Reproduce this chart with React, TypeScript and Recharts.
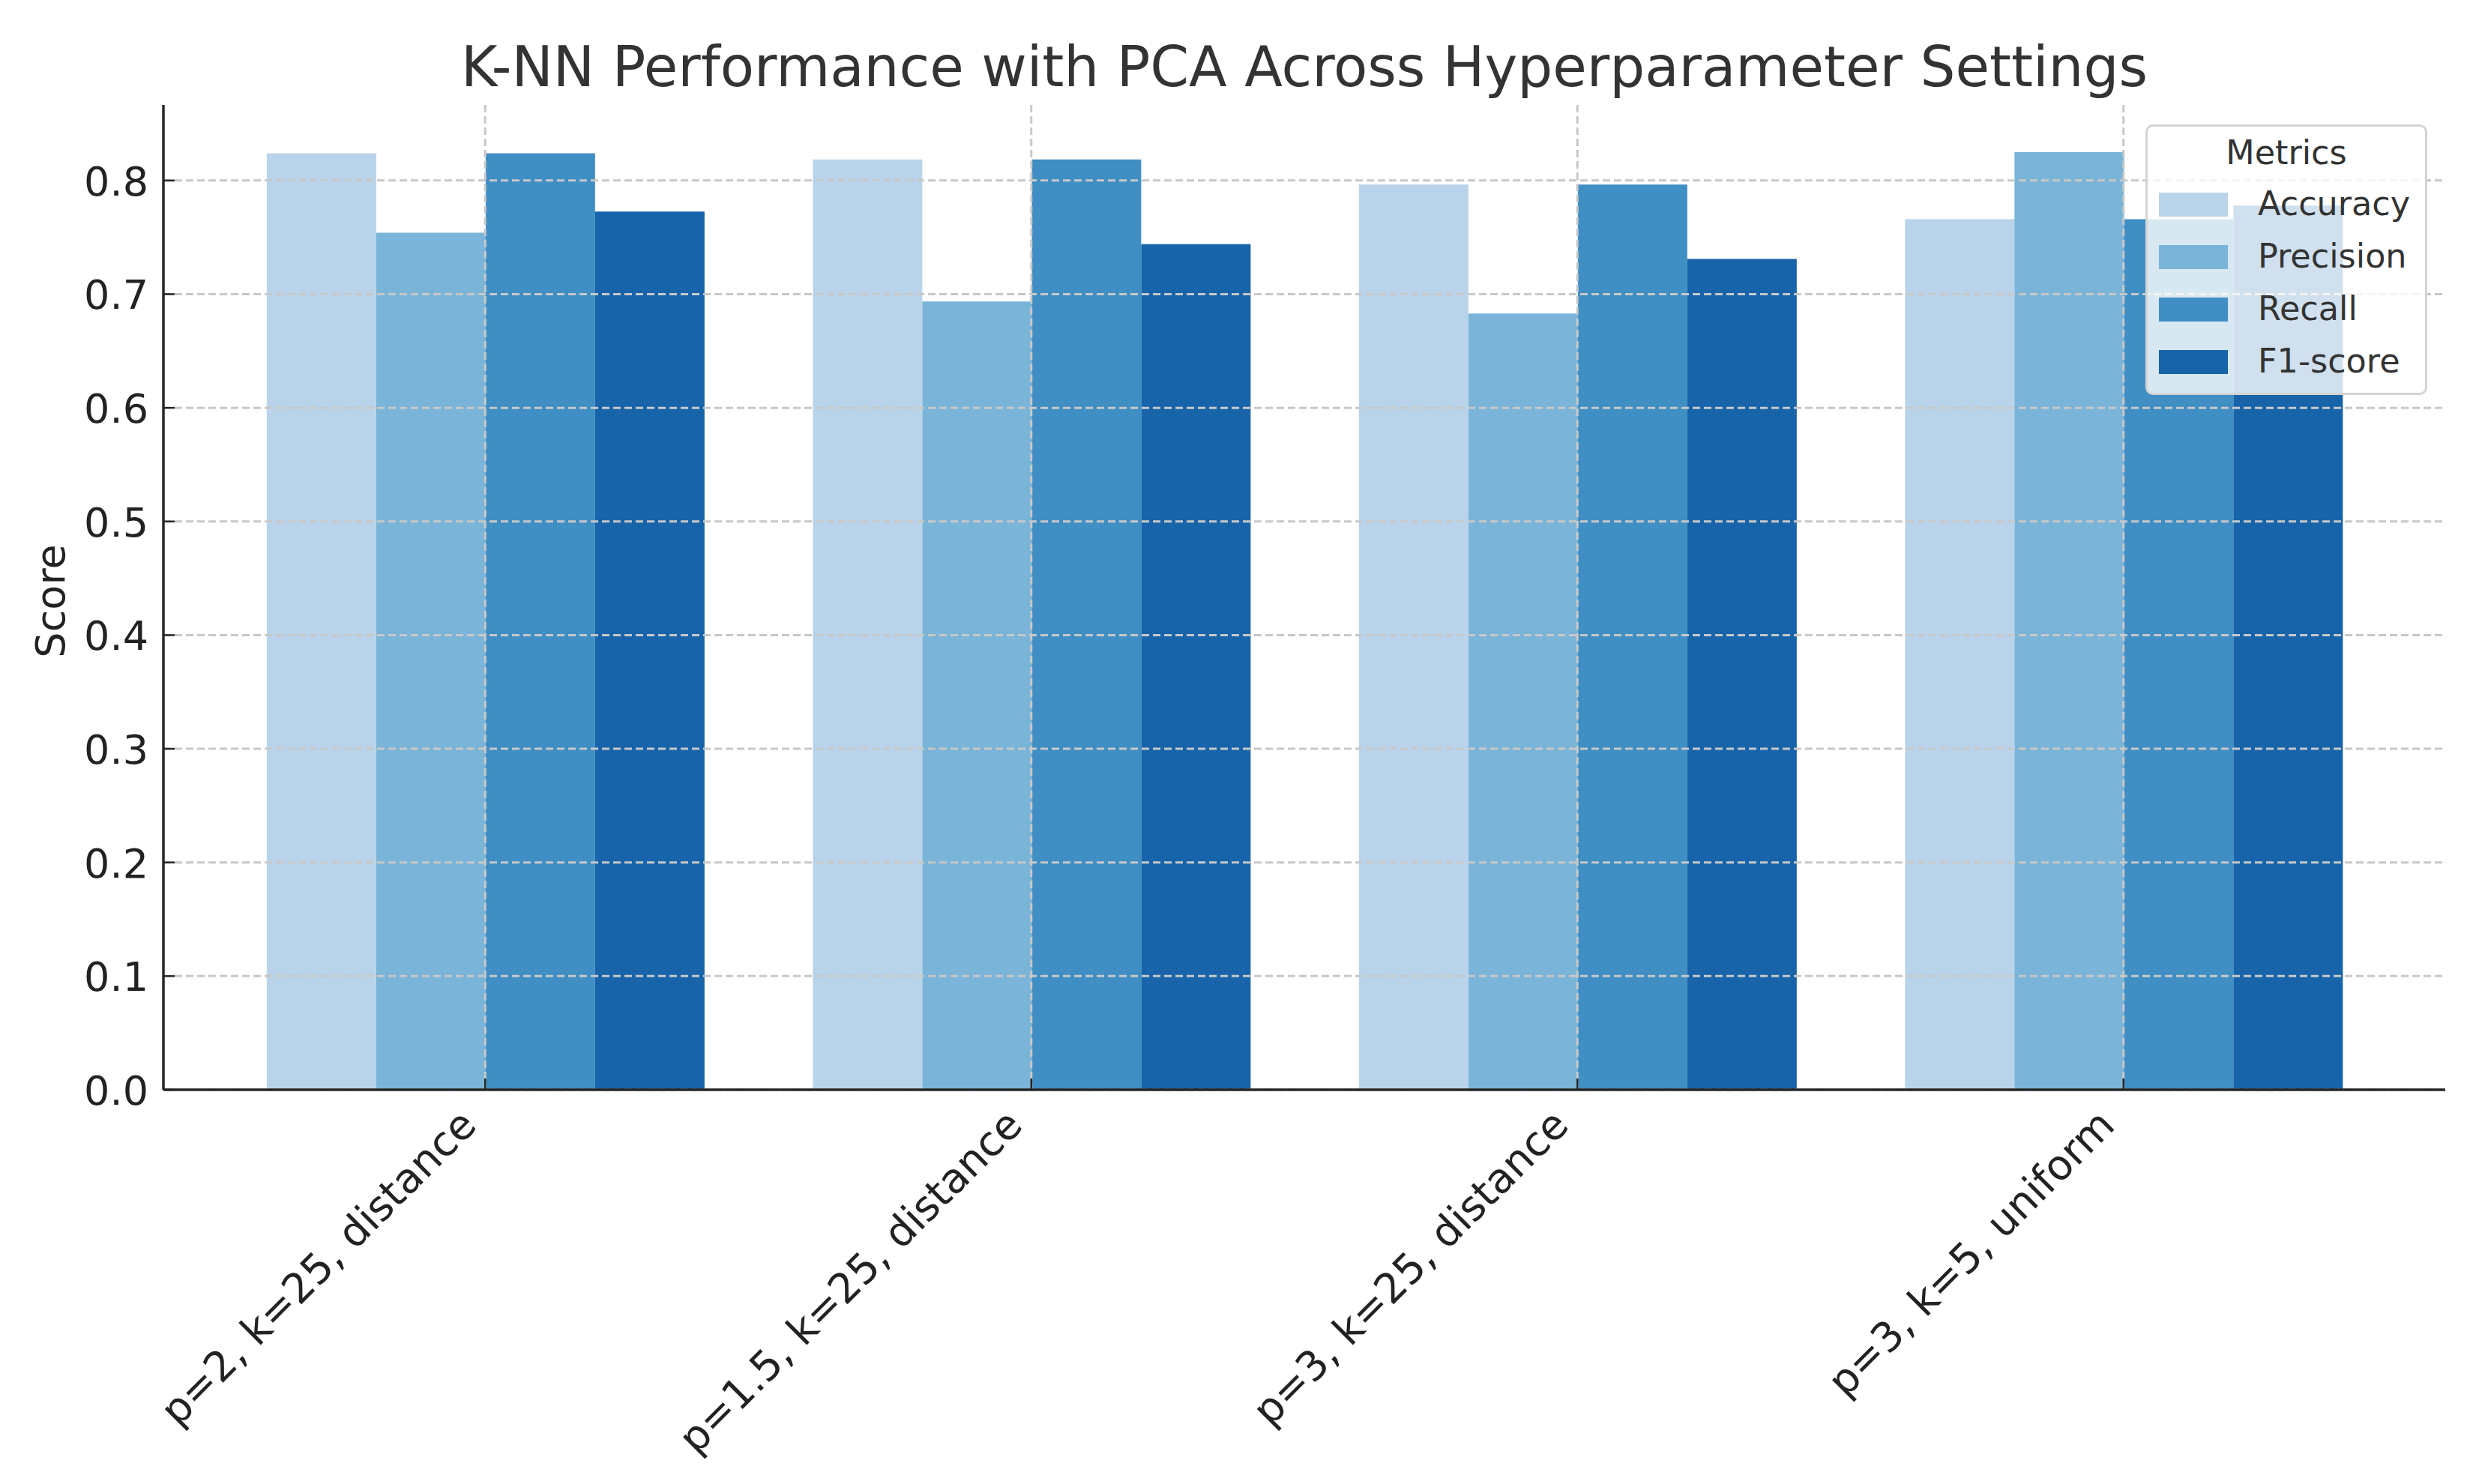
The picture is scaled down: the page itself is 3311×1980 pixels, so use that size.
import React from 'react';
import { BarChart, Bar, XAxis, YAxis, CartesianGrid } from 'recharts';

const categories = [
  'p=2, k=25, distance',
  'p=1.5, k=25, distance',
  'p=3, k=25, distance',
  'p=3, k=5, uniform',
];
const accuracy = [0.824, 0.8185, 0.7965, 0.766];
const precision = [0.754, 0.6935, 0.683, 0.825];
const recall = [0.824, 0.8185, 0.7965, 0.766];
const f1score = [0.7727, 0.744, 0.731, 0.778];

const seriesKeys = ['accuracy', 'precision', 'recall', 'f1'];
const seriesNames = ['Accuracy', 'Precision', 'Recall', 'F1-score'];
const seriesColors = ['#b9d4ea', '#7ab4d8', '#3f8ec4', '#1764ab'];
const seriesValues = [accuracy, precision, recall, f1score];

const yTicks = [0, 0.1, 0.2, 0.3, 0.4, 0.5, 0.6, 0.7, 0.8];
const yMax = 0.8665;

const titleText = 'K-NN Performance with PCA Across Hyperparameter Settings';
const yLabel = 'Score';
const legendTitle = 'Metrics';

const data = categories.map((name, i) => {
  const row: Record<string, any> = { name };
  seriesKeys.forEach((k, j) => {
    row[k] = seriesValues[j][i];
  });
  return row;
});

const FONT = '"DejaVu Sans", Verdana, sans-serif';
const AXIS_COLOR = '#262626';

const XTick = (props: any) => {
  const { x, y, payload } = props;
  const ax = x - 9;
  const ay = y + 50;
  return (
    <g>
      <line x1={x} x2={x} y1={y} y2={y - 15} stroke={AXIS_COLOR} strokeWidth={2.5} />
      <text
        x={ax}
        y={ay}
        transform={`rotate(-45 ${ax} ${ay})`}
        textAnchor="end"
        fontSize={55}
        fontFamily={FONT}
        fill="#222"
      >
        {payload.value}
      </text>
    </g>
  );
};

const YTick = (props: any) => {
  const { x, y, payload } = props;
  return (
    <g>
      <line x1={x} x2={x + 15} y1={y} y2={y} stroke={AXIS_COLOR} strokeWidth={2.5} />
      <text
        x={x - 20}
        y={y + 20}
        textAnchor="end"
        fontSize={54}
        fontFamily={FONT}
        fill="#222"
      >
        {Number(payload.value).toFixed(1)}
      </text>
    </g>
  );
};

const YLabel = () => (
  <text
    x={86}
    y={802}
    transform="rotate(-90 86 802)"
    textAnchor="middle"
    fontSize={54}
    fontFamily={FONT}
    fill="#222"
  >
    {yLabel}
  </text>
);

export default function App() {
  return (
    <div
      style={{
        position: 'absolute',
        left: 0,
        top: 0,
        width: 3311,
        height: 1980,
        background: '#fff',
        fontFamily: FONT,
      }}
    >
      <BarChart
        width={3311}
        height={1980}
        data={data}
        margin={{ top: 140, right: 49, bottom: 126, left: 18 }}
        barCategoryGap="10%"
        barGap={0}
      >
        {seriesKeys.map((k, j) => (
          <Bar
            key={k}
            dataKey={k}
            name={seriesNames[j]}
            fill={seriesColors[j]}
            isAnimationActive={false}
          />
        ))}
        <CartesianGrid
          stroke="#c8c8c8"
          strokeWidth={3}
          strokeDasharray="10 5"
          syncWithTicks
          zIndex={450}
        />
        <XAxis
          dataKey="name"
          height={400}
          interval={0}
          padding={{ left: 65, right: 65 }}
          axisLine={{ stroke: AXIS_COLOR, strokeWidth: 3.5 }}
          tickLine={false}
          tickSize={0}
          tickMargin={0}
          tick={<XTick />}
        />
        <YAxis
          width={200}
          domain={[0, yMax]}
          ticks={yTicks}
          allowDataOverflow
          axisLine={{ stroke: AXIS_COLOR, strokeWidth: 3.5 }}
          tickLine={false}
          tickSize={0}
          tickMargin={0}
          tick={<YTick />}
          label={{ value: yLabel, content: <YLabel /> }}
        />
      </BarChart>

      <div
        style={{
          position: 'absolute',
          left: 218,
          top: 52,
          width: 3044,
          textAlign: 'center',
          fontSize: 74,
          lineHeight: 1,
          color: '#333',
          whiteSpace: 'nowrap',
        }}
      >
        {titleText}
      </div>

      <div
        style={{
          position: 'absolute',
          left: 2862,
          top: 166,
          width: 376,
          height: 361,
          boxSizing: 'border-box',
          background: 'rgba(255,255,255,0.8)',
          border: '3px solid #d4d4d4',
          borderRadius: 10,
          color: '#333',
          fontSize: 44.5,
          lineHeight: 1,
        }}
      >
        <div
          style={{
            position: 'absolute',
            left: 0,
            width: 370,
            top: 13.4,
            textAlign: 'center',
            whiteSpace: 'nowrap',
          }}
        >
          {legendTitle}
        </div>
        {seriesNames.map((n, j) => (
          <React.Fragment key={n}>
            <div
              style={{
                position: 'absolute',
                left: 15,
                top: 88 + j * 70,
                width: 92,
                height: 32,
                background: seriesColors[j],
              }}
            />
            <div
              style={{
                position: 'absolute',
                left: 147,
                top: 81.4 + j * 70,
                whiteSpace: 'nowrap',
              }}
            >
              {n}
            </div>
          </React.Fragment>
        ))}
      </div>
    </div>
  );
}
